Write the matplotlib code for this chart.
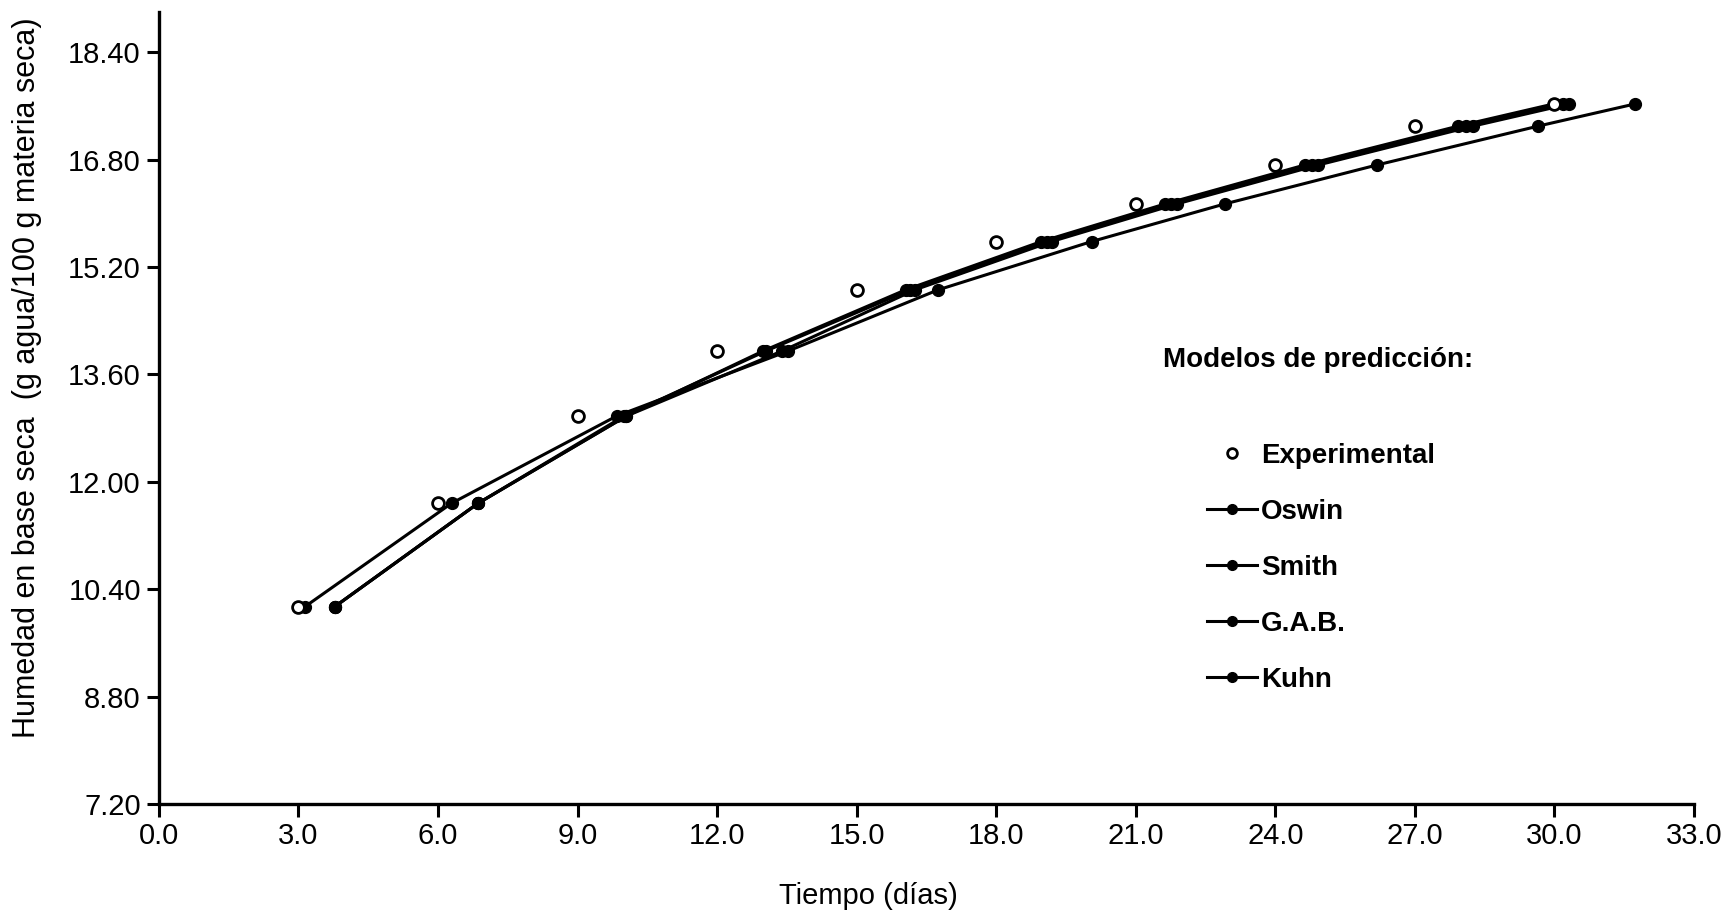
import matplotlib

matplotlib.use("Agg")
import matplotlib.pyplot as plt
from matplotlib.lines import Line2D
from matplotlib.ticker import FormatStrFormatter

plt.rcParams["font.family"] = ["Liberation Sans", "DejaVu Sans"]

# humedad (g agua/100 g m.s.) de cada pesada y tiempo observado / predicho
HUMEDAD = [10.14, 11.68, 12.98, 13.95, 14.86, 15.58, 16.14, 16.72, 17.30, 17.63]
TIEMPO_EXP = [3.0, 6.0, 9.0, 12.0, 15.0, 18.0, 21.0, 24.0, 27.0, 30.0]
TIEMPO_OSWIN = [3.78, 6.86, 10.05, 12.99, 16.05, 18.97, 21.63, 24.63, 27.93, 29.98]
TIEMPO_SMITH = [3.78, 6.86, 10.05, 13.40, 16.25, 19.19, 21.88, 24.92, 28.25, 30.32]
TIEMPO_GAB = [3.78, 6.86, 10.00, 13.05, 16.15, 19.08, 21.76, 24.78, 28.10, 30.19]
TIEMPO_KUHN = [3.14, 6.29, 9.84, 13.53, 16.75, 20.05, 22.91, 26.18, 29.65, 31.73]

MODELOS = ["Oswin", "Smith", "G.A.B.", "Kuhn"]
X_TICKS = [0.0, 3.0, 6.0, 9.0, 12.0, 15.0, 18.0, 21.0, 24.0, 27.0, 30.0, 33.0]
Y_TICKS = [7.2, 8.8, 10.4, 12.0, 13.6, 15.2, 16.8, 18.4]

FS = 21
FS_LEG = 20


def plot_curvas() -> None:
    fig = plt.figure(figsize=(17.35, 9.16), dpi=100)
    ax = fig.add_axes([0.0916, 0.1223, 0.8848, 0.8646])

    series = [TIEMPO_OSWIN, TIEMPO_SMITH, TIEMPO_GAB, TIEMPO_KUHN]
    for tiempos in series:
        ax.plot(tiempos, HUMEDAD, color="black", lw=2.2, marker="o",
                markersize=8.5, markerfacecolor="black", markeredgecolor="black",
                zorder=2)
    ax.plot(TIEMPO_EXP, HUMEDAD, ls="none", marker="o", markersize=8.5,
            markerfacecolor="white", markeredgecolor="black",
            markeredgewidth=2.0, zorder=3)

    ax.set_xlim(0, 33)
    ax.set_ylim(7.2, 19.0)
    ax.set_xticks(X_TICKS)
    ax.set_yticks(Y_TICKS)
    ax.xaxis.set_major_formatter(FormatStrFormatter("%.1f"))
    ax.yaxis.set_major_formatter(FormatStrFormatter("%.2f"))
    ax.tick_params(axis="both", direction="out", length=9, width=2.2,
                   labelsize=FS, pad=4, color="black")
    for side in ("top", "right"):
        ax.spines[side].set_visible(False)
    for side in ("left", "bottom"):
        ax.spines[side].set_linewidth(2.4)

    ax.set_xlabel("Tiempo (días)", fontsize=FS)
    ax.set_ylabel("Humedad en base seca  (g agua/100 g materia seca)",
                  fontsize=22)
    ax.xaxis.set_label_coords(0.462, -0.098)
    ax.yaxis.set_label_coords(-0.076, 0.538)

    handles = [Line2D([], [], ls="none", marker="o", markersize=7,
                      markerfacecolor="white", markeredgecolor="black",
                      markeredgewidth=2.0)]
    for _ in MODELOS:
        handles.append(Line2D([], [], color="black", lw=2.2, marker="o",
                              markersize=7, markerfacecolor="black"))
    fig.text(1163 / 1735, 1 - 360 / 916, "Modelos de predicción:",
             fontsize=FS_LEG, fontweight="bold", ha="left", va="center")
    ax.legend(handles, ["Experimental"] + MODELOS, loc="upper left",
              bbox_to_anchor=(1207 / 1735, 1 - 443 / 916),
              bbox_transform=fig.transFigure, frameon=False,
              prop={"size": FS_LEG, "weight": "bold"}, handlelength=1.8,
              handletextpad=0.15, labelspacing=1.08, borderpad=0,
              borderaxespad=0)

    fig.savefig("out.png", dpi=100)
    plt.close(fig)


if __name__ == "__main__":
    plot_curvas()
